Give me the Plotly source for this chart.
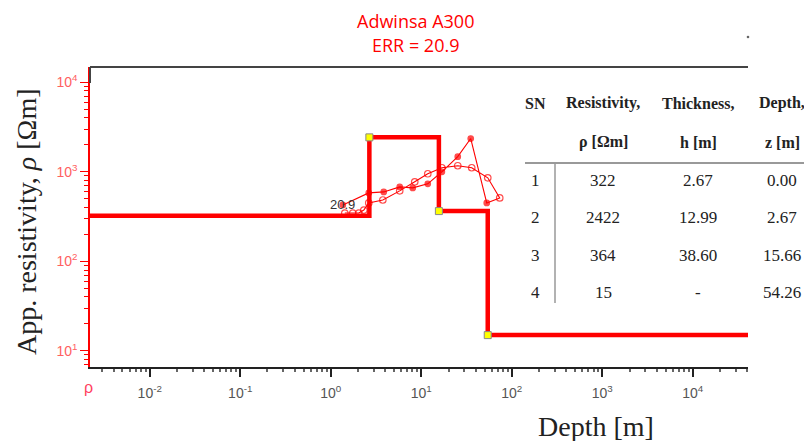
import math
import plotly.graph_objects as go

# ---------------- data ----------------
title_lines = ["Adwinsa A300", "ERR = 20.9"]
err_label = "20.9"

# layered model (inversion result)
layer_sn = [1, 2, 3, 4]
layer_rho = [322, 2422, 364, 15]
layer_thick = ["2.67", "12.99", "38.60", "-"]
layer_depth = ["0.00", "2.67", "15.66", "54.26"]
layer_top = [0.00, 2.67, 15.66, 54.26]

# observed apparent resistivity (filled dots)
obs_x = [1.36, 2.63, 3.85, 5.78, 8.05, 11.8, 16.9, 25.3, 35.2, 52.9]
obs_rho = [426, 581, 596, 678, 661, 733, 1000, 1475, 2350, 449]

# calculated apparent resistivity (open circles)
calc_x = [1.43, 1.75, 2.04, 2.32, 2.63, 3.76, 5.78, 8.47, 11.8, 16.9, 25.3, 36.1, 54.3, 73.6]
calc_rho = [346, 346, 346, 374, 449, 484, 612, 773, 950, 1109, 1168, 1109, 857, 510]

x_tick_vals = [0.01, 0.1, 1, 10, 100, 1000, 10000]
x_tick_text = ["10<sup>-2</sup>", "10<sup>-1</sup>", "10<sup>0</sup>", "10<sup>1</sup>",
               "10<sup>2</sup>", "10<sup>3</sup>", "10<sup>4</sup>"]
y_tick_vals = [10, 100, 1000, 10000]
y_tick_text = ["10<sup>1</sup>", "10<sup>2</sup>", "10<sup>3</sup>", "10<sup>4</sup>"]

x_range_log = [-2.66, 4.61]
y_range_log = [0.82, 4.17]

# ---------------- layout helpers ----------------
W, H = 804, 441
PL, PR, PT, PB = 90, 748, 67, 367


def px(x, y):
    return (x - PL) / (PR - PL), (PB - y) / (PB - PT)


def note(cx, cy, text, size, color, family, **kw):
    x, y = px(cx, cy)
    d = dict(x=x, y=y, xref="paper", yref="paper", text=text, showarrow=False,
             xanchor="center", yanchor="middle",
             font=dict(family=family, size=size, color=color))
    d.update(kw)
    return d


RED = "#ff0000"
fig = go.Figure()

# model step curve
step_x = [10 ** x_range_log[0]] + layer_top[1:] + [10 ** x_range_log[1]]
step_y = layer_rho + [layer_rho[-1]]
fig.add_trace(go.Scatter(x=step_x, y=step_y, mode="lines", line=dict(color=RED, width=4.5, shape="hv"),
                         hoverinfo="skip", showlegend=False))

# data loop: observed then calculated (reversed)
loop_x = obs_x + calc_x[::-1]
loop_y = obs_rho + calc_rho[::-1]
symbols = ["circle"] * len(obs_x) + ["circle-open"] * len(calc_x)
sizes = [5.5] * len(obs_x) + [6.5] * len(calc_x)
fig.add_trace(go.Scatter(x=loop_x, y=loop_y, mode="lines+markers",
                         line=dict(color=RED, width=1.1),
                         marker=dict(symbol=symbols, size=sizes, color=RED, line=dict(color=RED, width=1.2)),
                         showlegend=False))

# corner markers
fig.add_trace(go.Scatter(x=layer_top[1:], y=layer_rho[1:], mode="markers",
                         marker=dict(symbol="square", size=7, color="#ffff00", line=dict(color="#888888", width=1)),
                         showlegend=False))

ann = []
for i, t in enumerate(title_lines):
    ann.append(note(415, 21 + 24 * i, t, 18, RED, "Open Sans"))

ann.append(dict(x=math.log10(obs_x[0]), y=math.log10(obs_rho[0]), xref="x", yref="y", text=err_label,
                showarrow=False, xanchor="center", yanchor="middle",
                font=dict(family="Liberation Sans", size=13, color="#333333")))

ann.append(note(27, 222, "App. resistivity, <i>ρ</i> [Ωm]", 28, "#222222", "Liberation Serif", textangle=-90))
ann.append(note(596, 426, "Depth [m]", 28, "#222222", "Liberation Serif"))
ann.append(note(88, 387, "ρ", 16, "#ff4060", "Liberation Sans"))

# table
col_x = [535, 603, 698, 782]
hdr1 = ["SN", "Resistivity,", "Thickness,", "Depth,"]
hdr2 = ["", "ρ [Ωm]", "h [m]", "z [m]"]
for cx, t in zip(col_x, hdr1):
    ann.append(note(cx, 103, "<b>" + t + "</b>", 16, "#222222", "Liberation Serif"))
for cx, t in zip(col_x, hdr2):
    if t:
        ann.append(note(cx, 142, "<b>" + t + "</b>", 16, "#222222", "Liberation Serif"))
row_y = [180, 217, 255, 292]
for i, ry in enumerate(row_y):
    vals = [str(layer_sn[i]), str(layer_rho[i]), layer_thick[i], layer_depth[i]]
    for cx, t in zip(col_x, vals):
        ann.append(note(cx, ry, t, 17, "#222222", "Liberation Serif"))

shapes = []
x0, y0 = px(PL, PT)
x1, _ = px(PR, PT)
shapes.append(dict(type="line", xref="paper", yref="paper", x0=x0, x1=x1, y0=y0, y1=y0,
                   line=dict(color="#444444", width=2)))
_, y83 = px(PL, 83)
shapes.append(dict(type="line", xref="paper", yref="paper", x0=0, x1=0, y0=y0, y1=y83,
                   line=dict(color="#444444", width=2)))
a0, b0 = px(525, 163)
a1, _ = px(804, 163)
shapes.append(dict(type="line", xref="paper", yref="paper", x0=a0, x1=a1, y0=b0, y1=b0,
                   line=dict(color="#999999", width=2)))
a0, b0 = px(555, 163)
_, b1 = px(555, 303)
shapes.append(dict(type="line", xref="paper", yref="paper", x0=a0, x1=a0, y0=b0, y1=b1,
                   line=dict(color="#999999", width=1.5)))
a0, b0 = px(748, 37)
shapes.append(dict(type="circle", xref="paper", yref="paper", x0=a0 - 0.002, x1=a0 + 0.002,
                   y0=b0 - 0.004, y1=b0 + 0.004, fillcolor="#666666", line=dict(width=0)))

fig.update_layout(
    width=W, height=H,
    margin=dict(l=PL, r=W - PR, t=PT, b=H - PB),
    paper_bgcolor="white", plot_bgcolor="white",
    annotations=ann, shapes=shapes,
    xaxis=dict(type="log", range=x_range_log, tickvals=x_tick_vals, ticktext=x_tick_text,
               showline=True, linecolor="#222222", linewidth=1.5, showgrid=False, zeroline=False,
               ticks="outside", ticklen=8, tickcolor="#222222", tickwidth=1.5, ticklabelstandoff=4,
               minor=dict(ticks="outside", ticklen=3, tickcolor="#666666", showgrid=False, dtick="D1"),
               tickfont=dict(family="Liberation Sans", size=14, color="#555555")),
    yaxis=dict(type="log", range=y_range_log, tickvals=y_tick_vals, ticktext=y_tick_text,
               showline=True, linecolor=RED, linewidth=1.5, showgrid=False, zeroline=False,
               ticks="outside", ticklen=8, tickcolor=RED,
               minor=dict(ticks="outside", ticklen=4, tickcolor=RED, showgrid=False, dtick="D1"),
               tickfont=dict(family="Liberation Sans", size=14, color="#ff6060")),
)

fig.write_html("out.html")
